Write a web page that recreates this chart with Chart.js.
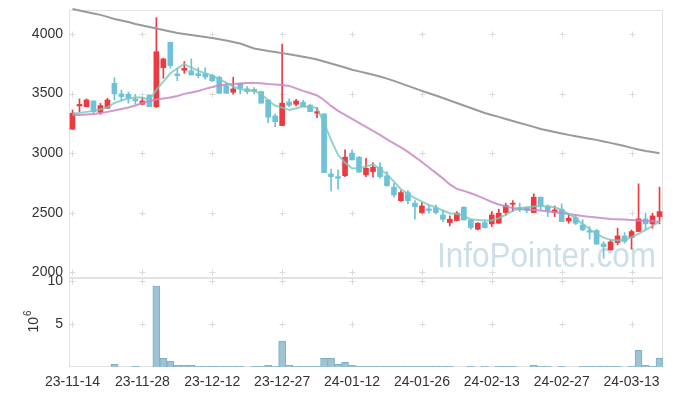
<!DOCTYPE html>
<html>
<head>
<meta charset="utf-8">
<script src="https://cdn.jsdelivr.net/npm/chart.js@4.4.1/dist/chart.umd.min.js"></script>
<style>
  html, body { margin: 0; padding: 0; background: #fff; }
  canvas { display: block; }
</style>
</head>
<body>
<canvas id="chart" width="673" height="396"></canvas>
<script>
// trading days shown on the x axis
const dates = [
  '23-11-14','23-11-15','23-11-16','23-11-17','23-11-20','23-11-21','23-11-22','23-11-23','23-11-24','23-11-27',
  '23-11-28','23-11-29','23-11-30','23-12-01','23-12-04','23-12-05','23-12-06','23-12-07','23-12-08','23-12-11',
  '23-12-12','23-12-13','23-12-14','23-12-15','23-12-18','23-12-19','23-12-20','23-12-21','23-12-22','23-12-26',
  '23-12-27','23-12-28','24-01-02','24-01-03','24-01-04','24-01-05','24-01-08','24-01-09','24-01-10','24-01-11',
  '24-01-12','24-01-15','24-01-16','24-01-17','24-01-18','24-01-19','24-01-22','24-01-23','24-01-24','24-01-25',
  '24-01-26','24-01-29','24-01-30','24-01-31','24-02-01','24-02-02','24-02-05','24-02-06','24-02-07','24-02-08',
  '24-02-13','24-02-14','24-02-15','24-02-16','24-02-19','24-02-20','24-02-21','24-02-22','24-02-23','24-02-26',
  '24-02-27','24-02-28','24-02-29','24-03-04','24-03-05','24-03-06','24-03-07','24-03-08','24-03-11','24-03-12',
  '24-03-13','24-03-14','24-03-15','24-03-18','24-03-19'
];

const opens = [
  3200,3396,3390,3438,3343,3377,3586,3497,3494,3452,
  3410,3488,3390,3717,3930,3664,3695,3690,3667,3667,
  3650,3637,3564,3511,3586,3539,3536,3516,3446,3312,
  3231,3430,3410,3427,3402,3335,3329,2825,2803,2811,
  3000,2966,2817,2845,2882,2809,2714,2601,2669,2580,
  2501,2532,2540,2481,2417,2434,2546,2439,2361,2417,
  2406,2412,2501,2571,2543,2543,2501,2630,2557,2501,
  2529,2431,2459,2397,2350,2350,2238,2188,2249,2305,
  2291,2342,2448,2406,2467
];
const highs = [
  3362,3455,3455,3440,3419,3460,3633,3530,3513,3494,
  3466,3490,4137,3796,3932,3712,3768,3790,3717,3717,
  3662,3645,3586,3637,3588,3558,3550,3520,3448,3329,
  3916,3455,3452,3446,3410,3385,3331,2865,2859,3027,
  3027,2970,2957,2920,2920,2845,2747,2685,2686,2601,
  2585,2565,2565,2523,2473,2509,2550,2445,2417,2440,
  2509,2530,2580,2601,2580,2546,2658,2632,2565,2557,
  2574,2481,2481,2440,2383,2360,2257,2272,2370,2333,
  2356,2742,2496,2496,2714
];
const lows = [
  3200,3346,3388,3331,3326,3374,3446,3438,3419,3410,
  3405,3390,3383,3628,3712,3608,3670,3656,3633,3620,
  3600,3500,3500,3494,3497,3497,3497,3419,3256,3222,
  3231,3390,3396,3390,3348,3298,2836,2683,2697,2803,
  2943,2840,2803,2798,2789,2720,2630,2595,2574,2445,
  2496,2496,2490,2425,2389,2430,2439,2361,2355,2370,
  2383,2410,2480,2509,2509,2500,2501,2523,2467,2467,
  2425,2411,2400,2350,2278,2236,2118,2185,2230,2244,
  2194,2340,2356,2370,2406
];
const closes = [
  3335,3409,3446,3348,3399,3446,3497,3474,3460,3438,
  3438,3390,3851,3790,3734,3650,3712,3656,3650,3639,
  3608,3502,3502,3539,3544,3516,3516,3419,3301,3264,
  3419,3402,3438,3390,3348,3348,2836,2803,2789,2966,
  2943,2840,2873,2882,2803,2727,2649,2669,2601,2551,
  2557,2518,2501,2445,2445,2496,2439,2375,2412,2375,
  2481,2496,2560,2580,2523,2518,2630,2557,2518,2523,
  2425,2454,2411,2356,2336,2236,2215,2255,2305,2258,
  2342,2448,2406,2473,2509
];

// moving average lines
const maShort = [
  3333,3337,3346,3354,3367,3383,3421,3442,3459,3467,
  3467,3446,3530,3600,3670,3712,3746,3717,3690,3670,
  3650,3620,3591,3558,3536,3530,3522,3497,3441,3399,
  3382,3362,3377,3390,3390,3377,3251,3111,2985,2920,
  2873,2873,2887,2907,2865,2823,2761,2697,2658,2622,
  2593,2565,2546,2518,2496,2490,2473,2445,2439,2434,
  2434,2454,2481,2515,2537,2546,2551,2557,2551,2546,
  2523,2490,2454,2406,2361,2322,2291,2272,2266,2272,
  2294,2322,2356,2389,2425
];
const maMid = [
  3320,3320,3325,3329,3335,3346,3358,3371,3383,3400,
  3421,3438,3450,3459,3467,3480,3497,3509,3522,3539,
  3555,3568,3576,3580,3585,3589,3589,3586,3580,3576,
  3572,3564,3543,3522,3505,3484,3446,3396,3354,3320,
  3287,3253,3220,3186,3153,3115,3081,3048,3010,2968,
  2926,2880,2834,2788,2737,2700,2683,2663,2641,2616,
  2590,2569,2553,2540,2532,2528,2523,2519,2511,2504,
  2498,2490,2481,2473,2465,2459,2454,2448,2446,2442,
  2439,2434,2431,2429,2425
];
const maLong = [
  4210,4197,4185,4172,4160,4143,4126,4113,4101,4084,
  4071,4059,4046,4034,4021,4008,4000,3992,3983,3975,
  3966,3956,3945,3933,3920,3899,3878,3867,3857,3849,
  3839,3830,3820,3809,3799,3786,3769,3752,3736,3719,
  3700,3686,3673,3658,3643,3625,3606,3585,3564,3543,
  3522,3503,3484,3463,3442,3421,3400,3379,3358,3337,
  3320,3304,3287,3270,3253,3237,3220,3203,3190,3178,
  3165,3153,3142,3131,3121,3111,3098,3086,3073,3060,
  3044,3031,3018,3010,2999
];

// volume, millions of shares
const volumes = [
  0,0,0,0,0,0,0.3,0,0,0.08,
  0,0,9.4,1.0,0.7,0.2,0.2,0.2,0.08,0.08,
  0.08,0.08,0.08,0.08,0.08,0,0.08,0.08,0.2,0.08,
  3.0,0.2,0.08,0.08,0.08,0.08,1.0,1.0,0.3,0.55,
  0.2,0.08,0.08,0.08,0.08,0.08,0.08,0.08,0.08,0.08,
  0.08,0.08,0.08,0.08,0.08,0,0,0.08,0,0.08,
  0,0.08,0.08,0.08,0,0,0.2,0.08,0.08,0,
  0.08,0,0,0.08,0.08,0.08,0.08,0.08,0.08,0,
  0.08,1.95,0.2,0.08,1.0
];

const xTickLabels = ['23-11-14','23-11-28','23-12-12','23-12-27','24-01-12','24-01-26','24-02-13','24-02-27','24-03-13'];
const priceTicks = [2000, 2500, 3000, 3500, 4000];
const volTicks = [5, 10];

const UP = '#ec3b40';
const DOWN = '#6ec1d8';
const candleColors = opens.map((o, i) => closes[i] >= o ? UP : DOWN);
const FONT = "'Liberation Sans', Arial, sans-serif";

// drop the extra room chart.js keeps for half tick labels
function fitY(s) {
  s.width = 69;
  s.paddingTop = 0;
  s.paddingBottom = 0;
}

const decor = {
  id: 'decor',
  beforeDatasetsDraw(chart) {
    const ctx = chart.ctx;
    const xs = chart.scales.x;
    const {left, right} = chart.chartArea;
    ctx.save();

    // watermark
    ctx.font = '35px ' + FONT;
    ctx.fillStyle = 'rgba(170,200,218,0.6)';
    ctx.textBaseline = 'alphabetic';
    const wm = 'InfoPointer.com';
    const w = ctx.measureText(wm).width;
    ctx.translate(437, 267);
    ctx.scale(219 / w, 1);
    ctx.fillText(wm, 0, 0);
    ctx.setTransform(1, 0, 0, 1, 0, 0);

    // little crosses where grid lines would meet
    ctx.strokeStyle = '#dadada';
    ctx.lineWidth = 1;
    const cols = dates.map((d, i) => xTickLabels.includes(d) ? i : -1).filter(i => i >= 0);
    [['y', priceTicks], ['yv', volTicks]].forEach(([id, ticks]) => {
      const s = chart.scales[id];
      cols.forEach(i => {
        const px = Math.round(xs.getPixelForValue(i)) + 0.5;
        ticks.forEach(v => {
          const py = Math.round(s.getPixelForValue(v)) + 0.5;
          ctx.beginPath();
          ctx.moveTo(px - 3, py); ctx.lineTo(px + 3, py);
          ctx.moveTo(px, py - 3); ctx.lineTo(px, py + 3);
          ctx.stroke();
        });
      });
    });

    // panel frames
    ctx.strokeStyle = '#e2e2e2';
    ['y', 'yv'].forEach(id => {
      const s = chart.scales[id];
      ctx.strokeRect(left + 0.5, Math.round(s.top) + 0.5, right - left - 1, Math.round(s.bottom - s.top) - 1);
    });
    ctx.restore();
  },
  afterDraw(chart) {
    const ctx = chart.ctx;
    const s = chart.scales.yv;
    ctx.save();
    ctx.translate(38, (s.top + s.bottom) / 2 + 10);
    ctx.rotate(-Math.PI / 2);
    ctx.fillStyle = '#333';
    ctx.textBaseline = 'alphabetic';
    ctx.font = '14px ' + FONT;
    ctx.fillText('10', 0, 0);
    const w = ctx.measureText('10').width;
    ctx.font = '10px ' + FONT;
    ctx.fillText('6', w + 1, -7);
    ctx.restore();
  }
};

new Chart(document.getElementById('chart'), {
  type: 'bar',
  data: {
    labels: dates,
    datasets: [
      {
        type: 'line', label: 'MA short', data: maShort, yAxisID: 'y',
        borderColor: 'rgba(120,200,188,0.8)', borderWidth: 2, pointRadius: 0, order: 0
      },
      {
        type: 'line', label: 'MA mid', data: maMid, yAxisID: 'y',
        borderColor: 'rgba(200,135,200,0.85)', borderWidth: 2, pointRadius: 0, order: 0
      },
      {
        type: 'line', label: 'MA long', data: maLong, yAxisID: 'y',
        borderColor: '#9a9a9a', borderWidth: 2, pointRadius: 0, order: 0, clip: false
      },
      {
        label: 'wick', data: lows.map((l, i) => [l, highs[i]]), yAxisID: 'y',
        backgroundColor: candleColors, barThickness: 1, grouped: false, order: 2
      },
      {
        label: 'body', data: opens.map((o, i) => [o, closes[i]]), yAxisID: 'y',
        backgroundColor: candleColors, barThickness: 5, grouped: false, order: 1
      },
      {
        label: 'volume', data: volumes, yAxisID: 'yv',
        backgroundColor: '#9ec4d4', borderColor: '#7eaec2', borderWidth: 1,
        barPercentage: 1, categoryPercentage: 1, grouped: false, order: 3
      }
    ]
  },
  options: {
    responsive: false,
    animation: false,
    devicePixelRatio: 1,
    layout: { padding: { top: 10, right: 10, left: 0, bottom: 0 } },
    plugins: { legend: { display: false }, tooltip: { enabled: false } },
    scales: {
      x: {
        grid: { display: false, drawTicks: false },
        border: { display: false },
        ticks: {
          autoSkip: false, maxRotation: 0, padding: 7,
          color: '#333', font: { family: FONT, size: 14 },
          callback: function (v) { return xTickLabels.includes(dates[v]) ? dates[v] : null; }
        },
        afterFit: s => { s.height = 29; s.paddingLeft = 0; s.paddingRight = 0; }
      },
      yv: {
        position: 'left', stack: 'panes', stackWeight: 89,
        min: 0, max: 10.35,
        grid: { display: false, drawTicks: false },
        border: { display: false },
        afterBuildTicks: s => { s.ticks = volTicks.map(v => ({ value: v })); },
        ticks: { padding: 6, color: '#333', font: { family: FONT, size: 14 }, callback: v => String(v) },
        afterFit: fitY
      },
      y: {
        position: 'left', stack: 'panes', stackWeight: 268,
        min: 1952, max: 4201,
        grid: { display: false, drawTicks: false },
        border: { display: false },
        afterBuildTicks: s => { s.ticks = priceTicks.map(v => ({ value: v })); },
        ticks: { padding: 6, color: '#333', font: { family: FONT, size: 14 }, callback: v => String(v) },
        afterFit: fitY
      }
    }
  },
  plugins: [decor]
});
</script>
</body>
</html>
